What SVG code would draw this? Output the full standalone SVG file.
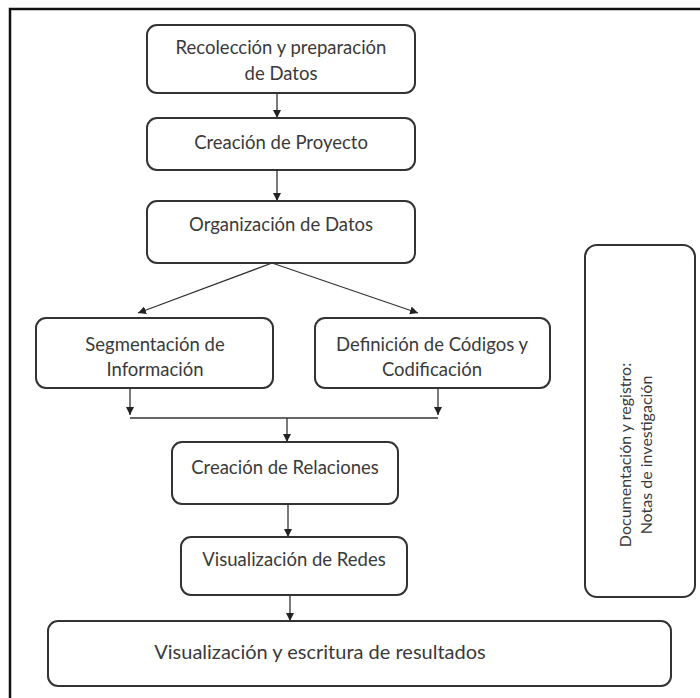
<svg xmlns="http://www.w3.org/2000/svg" width="700" height="698" viewBox="0 0 700 698">
<defs>
<marker id="ah" viewBox="0 0 10 10" refX="10" refY="5" markerWidth="8" markerHeight="8" markerUnits="userSpaceOnUse" orient="auto">
<path d="M0,0 L10,5 L0,10 Z" fill="#222"/>
</marker>
<style>
.box{fill:#fff;stroke:#333;stroke-width:2}
.t{font-family:Lato,"Open Sans",sans-serif;font-size:18.5px;fill:#3a3a3a;text-anchor:middle}
.c{fill:none;stroke:#333;stroke-width:1.3}
.a{marker-end:url(#ah)}
</style>
</defs>
<rect width="700" height="698" fill="#fff"/>
<path d="M10,698 V9 H700" fill="none" stroke="#111" stroke-width="2.5"/>
<g id="connectors">
<line class="c a" x1="277" y1="93" x2="277" y2="118"/>
<line class="c a" x1="277" y1="170" x2="277" y2="201"/>
<line class="c a" x1="272" y1="263" x2="138" y2="313"/>
<line class="c a" x1="272" y1="263" x2="418" y2="313"/>
<line class="c a" x1="130" y1="388" x2="130" y2="415"/>
<line class="c a" x1="438" y1="388" x2="438" y2="415"/>
<line class="c" x1="130" y1="418" x2="438" y2="418"/>
<line class="c a" x1="287" y1="418" x2="287" y2="442"/>
<line class="c a" x1="288" y1="504" x2="288" y2="537"/>
<line class="c a" x1="290" y1="595" x2="290" y2="621"/>
</g>
<g id="n1"><rect class="box" x="147" y="25" width="268" height="68" rx="10"/>
<text class="t" x="281" y="54">Recolección y preparación</text><text class="t" x="281" y="80">de Datos</text></g>
<g id="n2"><rect class="box" x="147" y="118" width="268" height="52" rx="10"/>
<text class="t" x="281" y="149">Creación de Proyecto</text></g>
<g id="n3"><rect class="box" x="147" y="201" width="268" height="62" rx="10"/>
<text class="t" x="281" y="231">Organización de Datos</text></g>
<g id="n4"><rect class="box" x="36" y="318" width="237" height="70" rx="10"/>
<text class="t" x="155" y="351">Segmentación de</text><text class="t" x="155" y="376">Información</text></g>
<g id="n5"><rect class="box" x="315" y="318" width="235" height="70" rx="10"/>
<text class="t" x="432" y="351">Definición de Códigos y</text><text class="t" x="432" y="376">Codificación</text></g>
<g id="n6"><rect class="box" x="172" y="442" width="226" height="62" rx="10"/>
<text class="t" x="285" y="474">Creación de Relaciones</text></g>
<g id="n7"><rect class="box" x="181" y="537" width="226" height="58" rx="10"/>
<text class="t" x="294" y="566">Visualización de Redes</text></g>
<g id="n8"><rect class="box" x="48" y="621" width="623" height="65" rx="10"/>
<text class="t" x="320" y="659" style="font-size:20px">Visualización y escritura de resultados</text></g>
<g id="n9"><rect class="box" x="585" y="245" width="110" height="352" rx="12"/>
<g transform="translate(636,455) rotate(-90)"><text class="t" x="0" y="-5" style="font-size:16px">Documentación y registro:</text><text class="t" x="0" y="16" style="font-size:16px">Notas de investigación</text></g></g>
</svg>
